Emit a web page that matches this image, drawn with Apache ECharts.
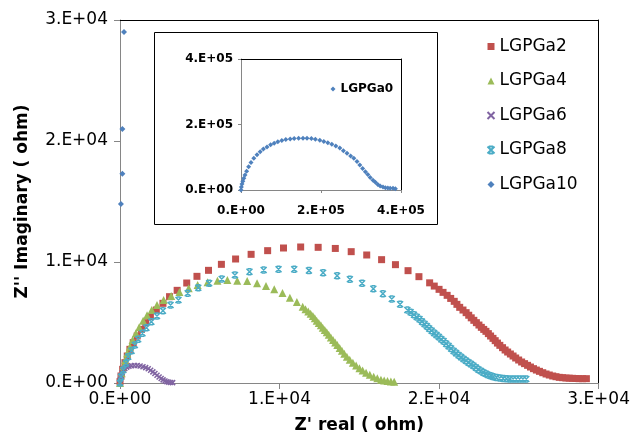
<!DOCTYPE html>
<html>
<head>
<meta charset="utf-8">
<script src="https://cdn.jsdelivr.net/npm/echarts@6/dist/echarts.min.js"></script>
<style>
  html, body { margin: 0; padding: 0; background: #fff; }
  #chart { width: 633px; height: 444px; }
</style>
</head>
<body>
<div id="chart"></div>
<script>
// Nyquist data: [Z' real, Z'' imaginary] in ohm
const seriesNames = ['LGPGa2', 'LGPGa4', 'LGPGa6', 'LGPGa8', 'LGPGa10'];
const insetName = 'LGPGa0';

const lgpga2 = [[0,110],[62,579],[166,1129],[311,1680],[455,2231],[621,2782],[828,3333],[1077,3884],[1346,4435],[1615,4986],[1905,5482],[2277,6033],[2692,6584],[3106,7135],[3582,7658],[4183,8264],[4824,8815],[5549,9311],[6356,9807],[7246,10248],[8219,10634],[9255,10937],[10248,11157],[11325,11240],[12422,11212],[13497,11120],[14493,10854],[15466,10579],[16398,10193],[17267,9780],[18056,9284],[18739,8788],[19410,8278],[19700,8010],[20000,7740],[20250,7490],[20507,7245],[20730,6990],[20951,6749],[21120,6500],[21294,6253],[21500,6030],[21697,5813],[21860,5600],[22018,5386],[22180,5180],[22340,4986],[22500,4790],[22650,4600],[22800,4430],[22939,4270],[23090,4080],[23230,3884],[23380,3690],[23520,3499],[23660,3300],[23810,3113],[23980,2920],[24141,2727],[24300,2560],[24472,2397],[24640,2230],[24803,2066],[24990,1900],[25176,1736],[25360,1600],[25548,1460],[25730,1320],[25921,1185],[26100,1070],[26294,964],[26500,850],[26708,744],[26910,660],[27124,579],[27330,520],[27536,468],[27740,440],[27950,413],[28160,398],[28366,386],[28570,370],[28778,358],[29000,358],[29236,358]];

const lgpga4 = [[0,0],[106,800],[205,1350],[329,1901],[453,2452],[621,3003],[789,3554],[994,4105],[1201,4600],[1449,5152],[1697,5592],[1988,6033],[2318,6446],[2733,6860],[3209,7190],[3727,7521],[4306,7824],[4865,8099],[5487,8320],[6108,8457],[6729,8512],[7350,8457],[7971,8430],[8592,8237],[9151,8017],[9669,7741],[10186,7430],[10650,7052],[11086,6690],[11450,6295],[11630,6100],[11801,5910],[11950,5720],[12090,5537],[12210,5345],[12330,5152],[12460,4960],[12590,4766],[12710,4570],[12836,4380],[12960,4190],[13085,3994],[13220,3770],[13354,3554],[13490,3350],[13623,3140],[13770,2900],[13913,2672],[14060,2420],[14220,2176],[14400,1920],[14596,1680],[14800,1440],[15010,1212],[15210,1030],[15424,854],[15660,680],[15901,523],[16130,390],[16356,275],[16560,210],[16770,165],[16980,130],[17186,110]];

const lgpga6 = [[0,0],[30,300],[70,600],[130,850],[210,1050],[300,1200],[420,1310],[560,1390],[720,1430],[900,1450],[1080,1440],[1260,1410],[1440,1350],[1610,1270],[1770,1170],[1920,1050],[2060,920],[2190,780],[2320,640],[2450,500],[2580,370],[2700,260],[2820,170],[2940,100],[3060,60],[3180,40],[3300,30]];

const lgpga8 = [[0,0],[62,523],[205,1074],[373,1625],[516,2176],[727,2672],[932,3140],[1139,3609],[1408,4105],[1656,4573],[1966,5069],[2318,5537],[2692,5978],[3168,6446],[3665,6860],[4245,7410],[4907,7879],[5590,8237],[6377,8595],[7205,8926],[8116,9201],[9006,9339],[9938,9394],[10922,9394],[11842,9300],[12733,9118],[13612,8870],[14410,8567],[15176,8237],[15880,7796],[16480,7383],[17037,6942],[17557,6501],[18012,6033],[18220,5840],[18427,5647],[18600,5450],[18778,5262],[18930,5070],[19090,4876],[19235,4690],[19380,4504],[19535,4320],[19690,4132],[19840,3960],[19990,3800],[20140,3620],[20290,3443],[20445,3250],[20600,3050],[20755,2850],[20910,2650],[21067,2470],[21224,2300],[21380,2140],[21534,1980],[21690,1840],[21845,1700],[22000,1560],[22155,1420],[22310,1270],[22466,1120],[22620,990],[22776,870],[22930,760],[23087,661],[23240,590],[23398,523],[23600,460],[23810,413],[24020,380],[24224,358],[24430,340],[24638,330],[24840,330],[25050,330],[25260,330],[25466,330]];

const lgpga10 = [[60,14800],[150,17300],[150,21000],[250,29000]];

const lgpga0 = [[0,0],[1000,9000],[2500,18000],[4500,27000],[7000,36000],[10000,46000],[14000,57000],[19000,71000],[25000,84000],[32000,97000],[40000,108000],[48000,117000],[56000,125000],[65000,131000],[74000,138000],[83000,143000],[92000,147000],[102000,151000],[112000,154000],[123000,156000],[133000,157500],[144000,158000],[155000,158000],[165000,158000],[176000,157000],[186000,155000],[197000,152000],[207000,148000],[217000,144000],[227000,140000],[237000,134000],[247000,128000],[256000,120000],[265000,112000],[274000,104000],[282000,97000],[290000,87000],[297000,76000],[304000,66000],[311000,56000],[317000,47000],[323000,38000],[330000,30000],[336000,24000],[342000,17000],[348000,12000],[355000,9000],[361000,7000],[367000,6000],[373000,5000],[380000,5000],[386000,4000]];

// Axis ticks
const mainTicks = { min: 0, max: 30000, interval: 10000 };
const insetTicks = { min: 0, max: 400000, interval: 200000 };

const colors = { red: '#C0504D', green: '#9BBB59', purple: '#8064A2', cyan: '#4BACC6', blue: '#4F81BD' };

// "3.E+04" style scientific labels
function sci(v) {
  if (v === 0) return '0.E+00';
  const e = Math.floor(Math.log10(Math.abs(v)) + 1e-9);
  const m = Math.round(v / Math.pow(10, e));
  return m + '.E+' + String(e).padStart(2, '0');
}

const FONT = 'DejaVu Sans, Verdana, sans-serif';
const axisGray = '#868686';

const crossPath = 'path://M0,0L10,10M10,0L0,10';
const starPath = 'path://M0,0L10,10M10,0L0,10M2,0L8,0M2,10L8,10';

function valueAxis(ticks, extra) {
  return Object.assign({
    type: 'value', min: ticks.min, max: ticks.max, interval: ticks.interval,
    splitLine: { show: false },
    axisLine: { show: true, onZero: false, lineStyle: { color: axisGray, width: 1 } },
    axisTick: { show: true, inside: false, length: 6, lineStyle: { color: axisGray } },
  }, extra);
}

function borderAxis(ticks, gridIndex, position) {
  return {
    type: 'value', gridIndex, position, min: ticks.min, max: ticks.max, interval: ticks.interval,
    axisLine: { show: true, onZero: false, lineStyle: { color: '#000', width: 1 } },
    axisTick: { show: false }, axisLabel: { show: false }, splitLine: { show: false }
  };
}

const chart = echarts.init(document.getElementById('chart'), null, { renderer: 'canvas' });

chart.setOption({
  animation: false,
  backgroundColor: '#fff',
  graphic: [{
    type: 'rect', z: 0,
    shape: { x: 154.5, y: 32.5, width: 283, height: 192 },
    style: { fill: '#fff', stroke: '#000', lineWidth: 1 }
  }],
  grid: [
    { left: 120, right: 31, top: 20, bottom: 61 },
    { left: 241, right: 232, top: 59, bottom: 254 }
  ],
  xAxis: [
    valueAxis(mainTicks, {
      gridIndex: 0, position: 'bottom',
      name: "Z' real ( ohm)", nameLocation: 'middle', nameGap: 34,
      nameTextStyle: { fontFamily: FONT, fontSize: 17, fontWeight: 'bold', color: '#000' },
      axisLabel: { formatter: sci, margin: 8, fontFamily: FONT, fontSize: 17, color: '#000' }
    }),
    borderAxis(mainTicks, 0, 'top'),
    valueAxis(insetTicks, {
      gridIndex: 1, position: 'bottom',
      axisTick: { show: true, length: 3, lineStyle: { color: axisGray } },
      axisLabel: { formatter: sci, margin: 15, fontFamily: FONT, fontSize: 12, fontWeight: 'bold', color: '#000' }
    }),
    borderAxis(insetTicks, 1, 'top')
  ],
  yAxis: [
    valueAxis(mainTicks, {
      gridIndex: 0, position: 'left',
      name: "Z'' Imaginary ( ohm)", nameLocation: 'middle', nameGap: 89,
      nameTextStyle: { fontFamily: FONT, fontSize: 17, fontWeight: 'bold', color: '#000' },
      axisLabel: { formatter: sci, margin: 12, fontFamily: FONT, fontSize: 17, color: '#000' }
    }),
    borderAxis(mainTicks, 0, 'right'),
    valueAxis(insetTicks, {
      gridIndex: 1, position: 'left',
      axisTick: { show: true, length: 3, lineStyle: { color: axisGray } },
      axisLabel: { formatter: sci, margin: 8, fontFamily: FONT, fontSize: 12, fontWeight: 'bold', color: '#000' }
    }),
    borderAxis(insetTicks, 1, 'right')
  ],
  legend: [
    {
      data: seriesNames, orient: 'vertical', left: 481.5, top: 33,
      itemWidth: 7, itemHeight: 7, itemGap: 17.5,
      textStyle: { fontFamily: FONT, fontSize: 17, color: '#000', lineHeight: 17 }
    },
    {
      data: [insetName], orient: 'vertical', left: 325.5, top: 78,
      itemWidth: 5, itemHeight: 5,
      textStyle: { fontFamily: FONT, fontSize: 12, fontWeight: 'bold', color: '#000' }
    }
  ],
  series: [
    { name: 'LGPGa2', type: 'scatter', xAxisIndex: 0, yAxisIndex: 0, data: lgpga2,
      symbol: 'rect', symbolSize: 7, itemStyle: { color: colors.red, opacity: 1 } },
    { name: 'LGPGa4', type: 'scatter', xAxisIndex: 0, yAxisIndex: 0, data: lgpga4,
      symbol: 'triangle', symbolSize: 8, itemStyle: { color: colors.green, opacity: 1 } },
    { name: 'LGPGa6', type: 'scatter', xAxisIndex: 0, yAxisIndex: 0, data: lgpga6,
      symbol: crossPath, symbolSize: 5, itemStyle: { color: colors.purple, borderColor: colors.purple, borderWidth: 1.5, opacity: 1 } },
    { name: 'LGPGa8', type: 'scatter', xAxisIndex: 0, yAxisIndex: 0, data: lgpga8,
      symbol: starPath, symbolSize: 6, itemStyle: { color: colors.cyan, borderColor: colors.cyan, borderWidth: 1.5, opacity: 1 } },
    { name: 'LGPGa10', type: 'scatter', xAxisIndex: 0, yAxisIndex: 0, data: lgpga10,
      symbol: 'diamond', symbolSize: 6, itemStyle: { color: colors.blue, opacity: 1 } },
    { name: 'LGPGa0', type: 'scatter', xAxisIndex: 2, yAxisIndex: 2, data: lgpga0,
      symbol: 'diamond', symbolSize: 5, itemStyle: { color: colors.blue, opacity: 1 } }
  ]
});
</script>
</body>
</html>
